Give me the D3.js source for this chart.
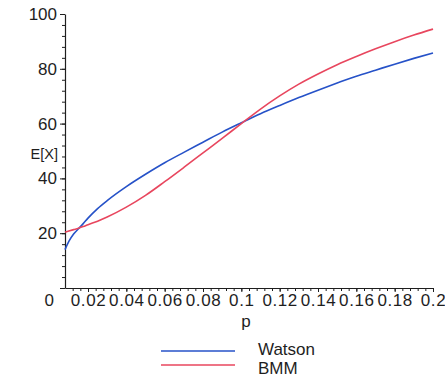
<!DOCTYPE html>
<html>
<head>
<meta charset="utf-8">
<script src="https://cdn.jsdelivr.net/npm/d3@7"></script>
<style>
  html, body { margin: 0; padding: 0; background: #fff; }
  svg { display: block; font-family: "Liberation Sans", Arial, sans-serif; }
</style>
</head>
<body>
<svg id="chart" width="445" height="378"></svg>
<script>
// Probability p on the horizontal axis
const pValues = [0.008, 0.01, 0.0125, 0.015, 0.0175, 0.02, 0.025, 0.03, 0.04, 0.05, 0.06, 0.07,
                 0.08, 0.09, 0.1, 0.11, 0.12, 0.13, 0.14, 0.15, 0.16, 0.17, 0.18, 0.19, 0.2];
// Expected value E[X] for each model
const watson = [14, 17.0, 19.7, 21.6, 23.5, 25.5, 29.0, 31.9, 37.0, 41.5, 45.7, 49.5,
                53.2, 56.9, 60.3, 63.6, 66.6, 69.5, 72.2, 74.8, 77.3, 79.5, 81.7, 83.8, 85.8];
const bmm    = [20.4, 20.8, 21.3, 21.8, 22.4, 23.1, 24.4, 25.9, 29.5, 33.8, 38.8, 44.0,
                49.3, 54.6, 60.0, 65.3, 70.1, 74.4, 78.1, 81.5, 84.5, 87.3, 89.9, 92.3, 94.5];
const seriesNames = ["Watson", "BMM"];
const seriesColors = ["#2652c8", "#e8465e"];
const xTicks = [0.02, 0.04, 0.06, 0.08, 0.1, 0.12, 0.14, 0.16, 0.18, 0.2];
const xTickLabels = ["0.02", "0.04", "0.06", "0.08", "0.1", "0.12", "0.14", "0.16", "0.18", "0.2"];
const yTicks = [0, 20, 40, 60, 80, 100];

const svg = d3.select("#chart");
const x = d3.scaleLinear().domain([0.008, 0.2]).range([65, 433]);
const y = d3.scaleLinear().domain([0, 100]).range([288, 14]);
const ink = "#1e1e1e";

// minor ticks on x axis every 0.004
const xMinor = d3.range(12, 201, 4).map(v => v / 1000);
svg.append("g").attr("transform", "translate(0,288)")
  .call(d3.axisBottom(x).tickValues(xMinor).tickSize(3).tickFormat(""))
  .call(g => g.select(".domain").remove())
  .call(g => g.selectAll("line").attr("stroke", ink));

// minor ticks on y axis every 4
const yMinor = d3.range(4, 100, 4);
svg.append("g").attr("transform", "translate(65,0)")
  .call(d3.axisLeft(y).tickValues(yMinor).tickSize(3).tickFormat(""))
  .call(g => g.select(".domain").remove())
  .call(g => g.selectAll("line").attr("stroke", ink));

// x axis
svg.append("g").attr("transform", "translate(0,288)")
  .call(d3.axisBottom(x).tickValues(xTicks).tickSize(4).tickPadding(2)
        .tickFormat((d, i) => xTickLabels[i]).tickSizeOuter(0))
  .call(g => g.select(".domain").attr("stroke", ink).attr("stroke-width", 1.2))
  .call(g => g.selectAll("line").attr("stroke", ink))
  .call(g => g.selectAll("text").attr("fill", ink).attr("font-size", 17)
        .attr("letter-spacing", 0.6)
        .attr("font-family", "Liberation Sans, Arial, sans-serif"));

// y axis
svg.append("g").attr("transform", "translate(65,0)")
  .call(d3.axisLeft(y).tickValues(yTicks).tickSize(5).tickPadding(3).tickSizeOuter(0))
  .call(g => g.select(".domain").attr("stroke", ink).attr("stroke-width", 1.2))
  .call(g => g.selectAll("line").attr("stroke", ink))
  .call(g => g.selectAll("text").attr("fill", ink).attr("font-size", 17)
        .attr("font-family", "Liberation Sans, Arial, sans-serif"))
  .call(g => g.selectAll(".tick").filter(d => d === 0).select("text")
        .attr("dx", -3).attr("dy", "1.05em"));

// axis titles
svg.append("text").attr("x", 58).attr("y", 159).attr("text-anchor", "end")
  .attr("font-size", 14.5).attr("fill", ink).text("E[X]");
svg.append("text").attr("x", 246).attr("y", 327).attr("text-anchor", "middle")
  .attr("font-size", 17).attr("fill", ink).text("p");

// curves
const line = d3.line()
  .x((d, i) => x(pValues[i]))
  .y(d => y(d))
  .curve(d3.curveMonotoneX);
[watson, bmm].forEach((vals, k) => {
  svg.append("path").datum(vals)
    .attr("d", line)
    .attr("fill", "none")
    .attr("stroke", seriesColors[k])
    .attr("stroke-width", 1.6);
});

// legend
const legend = svg.append("g");
seriesNames.forEach((name, k) => {
  const yy = 351 + k * 14;
  legend.append("line").attr("x1", 161).attr("x2", 235).attr("y1", yy).attr("y2", yy)
    .attr("stroke", seriesColors[k]).attr("stroke-width", 1.6);
  legend.append("text").attr("x", 258).attr("y", 355 + k * 19)
    .attr("font-size", 17).attr("fill", ink).text(name);
});
</script>
</body>
</html>
